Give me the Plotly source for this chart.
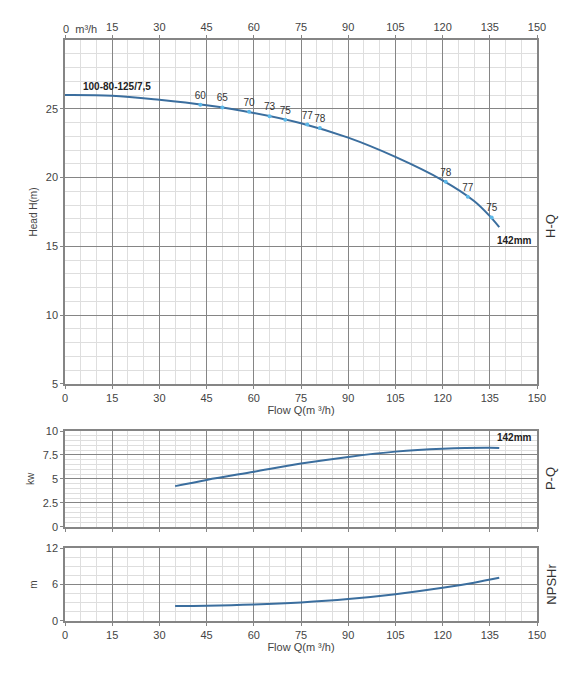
import plotly.graph_objects as go

# head curve H-Q
q_head = [0, 15, 30, 45, 60, 75, 90, 105, 120, 130, 135, 138]
head = [26.0, 25.95, 25.65, 25.25, 24.7, 23.95, 22.9, 21.5, 19.8, 18.3, 17.2, 16.4]

# efficiency points on the head curve
eff_q = [43, 50, 58.5, 65, 70, 77, 81, 121, 128, 135.6]
eff_h = [25.3, 25.1, 24.78, 24.45, 24.2, 23.85, 23.6, 19.7, 18.6, 17.1]
eff_val = ['60', '65', '70', '73', '75', '77', '78', '78', '77', '75']

# power curve P-Q
q_pow = [35, 45, 60, 75, 90, 105, 120, 135, 138]
power = [4.25, 4.9, 5.75, 6.6, 7.3, 7.85, 8.15, 8.25, 8.22]

# NPSHr curve
q_npsh = [35, 45, 60, 75, 90, 105, 120, 130, 138]
npsh = [2.45, 2.5, 2.7, 3.05, 3.6, 4.4, 5.45, 6.3, 7.1]

x_ticks = [0, 15, 30, 45, 60, 75, 90, 105, 120, 135, 150]
head_ticks = [5, 10, 15, 20, 25]

line_col = '#3b6e9e'
dot_col = '#5cb8e8'
major = '#858585'
minor = '#dedede'
txt = '#444444'
fnt = 'Liberation Sans, Arial, sans-serif'

fig = go.Figure()
fig.add_trace(go.Scatter(x=q_head, y=head, mode='lines', line=dict(color=line_col, width=2, shape='spline'),
                         xaxis='x', yaxis='y', showlegend=False))
fig.add_trace(go.Scatter(x=eff_q, y=eff_h, mode='markers+text', text=eff_val, textposition='top center',
                         textfont=dict(size=10, color='#333333', family=fnt),
                         marker=dict(color=dot_col, size=4), xaxis='x', yaxis='y', showlegend=False))
fig.add_trace(go.Scatter(x=q_pow, y=power, mode='lines', line=dict(color=line_col, width=2, shape='spline'),
                         xaxis='x2', yaxis='y2', showlegend=False))
fig.add_trace(go.Scatter(x=q_npsh, y=npsh, mode='lines', line=dict(color=line_col, width=2, shape='spline'),
                         xaxis='x3', yaxis='y3', showlegend=False))
fig.add_trace(go.Scatter(x=[None], y=[None], xaxis='x4', yaxis='y', showlegend=False))

def xax(labels=True, title=None):
    d = dict(range=[0, 150], tickvals=x_ticks, showticklabels=labels, showgrid=True, gridcolor=major,
             gridwidth=1, minor=dict(dtick=5, showgrid=True, gridcolor=minor, gridwidth=1),
             showline=True, linecolor=major, linewidth=1.5, mirror=True, zeroline=False, automargin=False,
             ticks='outside', ticklen=3, tickcolor=major, tickfont=dict(size=11, color=txt, family=fnt))
    if title:
        d['title'] = dict(text=title, font=dict(size=11, color=txt, family=fnt), standoff=2)
    return d

def yax(rng, tv, mdt, dom, title):
    return dict(range=rng, tickvals=tv, domain=dom, showgrid=True, gridcolor=major, gridwidth=1,
                minor=dict(dtick=mdt, showgrid=True, gridcolor=minor, gridwidth=1),
                showline=True, linecolor=major, linewidth=1.5, mirror=True, zeroline=False, automargin=False,
                ticks='outside', ticklen=3, tickcolor=major, tickfont=dict(size=11, color=txt, family=fnt),
                title=dict(text=title, font=dict(size=10, color=txt, family=fnt), standoff=6))

top_ticktext = [''] + [str(v) for v in x_ticks[1:]]

fig.update_layout(
    width=582, height=677, plot_bgcolor='white', paper_bgcolor='white',
    margin=dict(l=57, r=53, t=32, b=64, autoexpand=False),
    xaxis=dict(xax(True, 'Flow Q(m ³/h)'), anchor='y'),
    yaxis=yax([5, 30], head_ticks, 1, [0.408, 1], 'Head H(m)'),
    xaxis4=dict(xax(True), overlaying='x', side='top', anchor='y', ticktext=top_ticktext,
                showgrid=False, minor=dict(showgrid=False)),
    xaxis2=dict(xax(False), anchor='y2'),
    yaxis2=yax([0, 10], [0, 2.5, 5, 7.5, 10], 0.5, [0.162, 0.327], 'kw'),
    xaxis3=dict(xax(True, 'Flow Q(m ³/h)'), anchor='y3'),
    yaxis3=yax([0, 12], [0, 6, 12], 1.5, [0, 0.1256], 'm'),
)

ann = [
    dict(x=0, y=30, xref='x', yref='y', text='0  m³/h', showarrow=False, xanchor='left', yanchor='bottom',
         xshift=-4, yshift=3, font=dict(size=11, color=txt, family=fnt)),
    dict(x=5, y=26.1, xref='x', yref='y', text='<b>100-80-125/7,5</b>', showarrow=False, xanchor='left',
         yanchor='bottom', font=dict(size=10, color='#222222', family=fnt)),
    dict(x=136.5, y=16.0, xref='x', yref='y', text='<b>142mm</b>', showarrow=False, xanchor='left',
         yanchor='top', font=dict(size=10, color='#222222', family=fnt)),
    dict(x=136.5, y=8.5, xref='x2', yref='y2', text='<b>142mm</b>', showarrow=False, xanchor='left',
         yanchor='bottom', font=dict(size=10, color='#222222', family=fnt)),
    dict(x=1.03, y=16.5, xref='paper', yref='y', text='H-Q', showarrow=False, textangle=-90,
         xanchor='center', font=dict(size=13, color='#333333', family=fnt)),
    dict(x=1.03, y=5, xref='paper', yref='y2', text='P-Q', showarrow=False, textangle=-90,
         xanchor='center', font=dict(size=13, color='#333333', family=fnt)),
    dict(x=1.03, y=6, xref='paper', yref='y3', text='NPSHr', showarrow=False, textangle=-90,
         xanchor='center', font=dict(size=13, color='#333333', family=fnt)),
]
fig.update_layout(annotations=ann)

fig.write_html("out.html")
